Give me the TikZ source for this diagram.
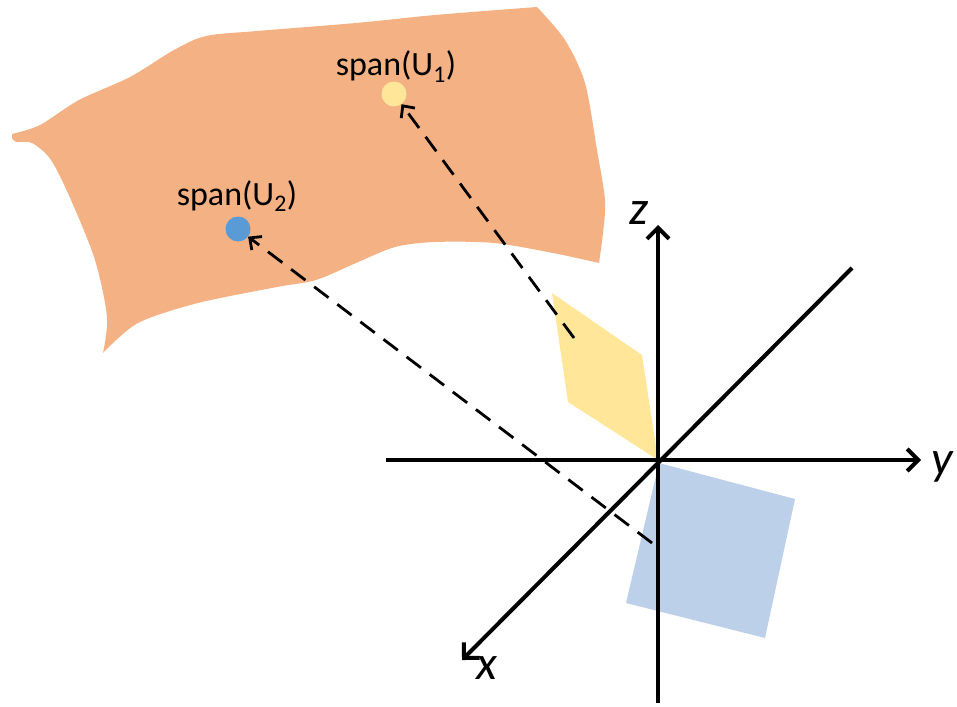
\documentclass[tikz,border=0pt]{standalone}
\usepackage{fontspec}
\setmainfont{Carlito}
\usetikzlibrary{arrows.meta}
\definecolor{orangeS}{RGB}{244,177,131}
\definecolor{yellowS}{RGB}{255,230,153}
\definecolor{blueS}{RGB}{189,208,233}
\definecolor{dotblue}{RGB}{91,155,213}
\begin{document}
\begin{tikzpicture}[x=1pt,y=-1pt,
  axis/.style={line width=4pt,-{Straight Barb[length=11pt,width=22pt]}},
  proj/.style={line width=2.8pt,dash pattern=on 18pt off 11pt,-{Straight Barb[length=9pt,width=17pt]}},
  lab/.style={font=\fontsize{34}{38}\selectfont,inner sep=0pt},
  axlab/.style={font=\fontsize{48}{50}\selectfont\itshape,inner sep=0pt},
  dot/.style={circle,minimum size=25pt,inner sep=0pt}]
\useasboundingbox (0,0) rectangle (957,706);
% manifold
\fill[orangeS] plot[smooth] coordinates {(12,134) (40,125) (79,100) (130,77) (174,50) (206,36) (257,31) (356,23) (435,15) (537,7)}
  -- plot[smooth] coordinates {(537,7) (565,40) (585,83) (597,150) (605,200) (603,233) (599,263)}
  -- plot[smooth] coordinates {(599,263) (553,253) (494,243) (435,242) (395,247) (356,263) (316,280) (277,287) (198,303) (138,323) (103,353)}
  -- plot[smooth] coordinates {(103,353) (107,317) (95,260) (71,200) (51,160) (32,143) (16,142) (12,138)}
  -- cycle;
% points on manifold
\node[dot,fill=yellowS] (u1) at (394,94) {};
\node[dot,fill=dotblue] (u2) at (238,229) {};
\node[lab,anchor=base] (l1) at (396,76) {span(U\textsubscript{1})};
\node[lab,anchor=base] (l2) at (237,205) {span(U\textsubscript{2})};
% subspaces
\fill[yellowS] (552,293) -- (642,355) -- (658,460) -- (568,402) -- cycle;
\fill[blueS] (659,463) -- (795,499) -- (765,638) -- (626,603) -- cycle;
% axes
\coordinate (O) at (658,460);
\coordinate (zt) at (658,225);
\coordinate (zb) at (658,703);
\coordinate (yl) at (386,460);
\coordinate (yr) at (921,460);
\coordinate (xu) at (852,268);
\coordinate (xd) at (462,660);
\draw[axis] (zb) -- (zt);
\draw[axis] (yl) -- (yr);
\draw[axis] (xu) -- (xd);
\node[axlab] (lz) at (639,213) {z};
\node[axlab] (ly) at (942,467) {y};
\node[axlab] (lx) at (487,668) {x};
% projections
\coordinate (p1) at (574,338);
\coordinate (p2) at (652,543);
\draw[proj] (p1) -- (u1);
\draw[proj] (p2) -- (u2);
\end{tikzpicture}
\end{document}
